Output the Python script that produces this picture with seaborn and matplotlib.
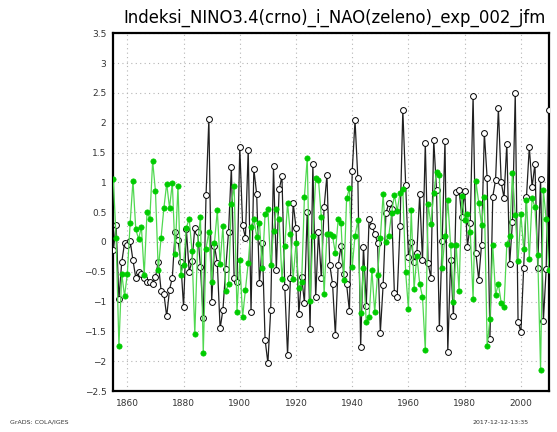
import numpy as np
import matplotlib
matplotlib.use('Agg')
import matplotlib.pyplot as plt
import seaborn as sns

# ============================================================
# DATA
# ============================================================
years = list(range(1855, 2011))

nino34 = [
    -0.14, 0.28, -0.96, -0.34, -0.02, -0.05, 0.02, -0.31, -0.60, -0.50, -0.54, -0.60, -0.67, -0.68, -0.70, -0.59, -0.33,
    -0.82, -0.87, -1.25, -0.80, -0.60, 0.17, 0.03, -0.33, -1.09, 0.21, -0.50, -0.32, 0.24, 0.17, -0.42, -1.28, 0.79, 2.06, -1.00,
    -0.07, -0.35, -1.45, -1.14, -0.45, 0.17, 1.25, -0.61, -0.68, 1.60, 0.28, 0.07, 1.55, -1.17, 1.22, 0.81, -0.69, -0.01, -1.64, -2.03,
    -1.14, 1.27, -0.47, 0.88, 1.10, -0.75, -1.89, -0.61, 0.65, 0.24, -1.21, -0.58, -1.02, 0.51, -1.46, 1.30, -0.93, 0.17, -0.60, 0.58,
    1.12, -0.38, -0.70, -1.56, -0.39, -0.07, -0.54, -0.71, -1.16, 1.19, 2.04, 1.07, -1.77, -0.08, -1.07, 0.39, 0.27, 0.14, -0.01,
    -1.52, -0.72, 0.48, 0.65, 0.56, -0.86, -0.92, 0.26, 2.21, 0.96, -0.25, 0.00, -0.33, -0.19, 0.80, -0.31, 1.66, -0.36, -0.60, 1.71,
    0.87, -1.45, 0.02, 1.69, -1.84, -0.30, -1.25, 0.84, 0.87, 0.42, 0.86, -0.08, 0.31, 2.45, -0.19, -0.63, -0.05, 1.83, 1.07,
    -1.62, 0.76, 1.04, 2.24, 1.00, 0.74, 1.65, -0.37, 0.33, 2.50, -1.34, -1.51, -0.43, 0.76, 1.59, 0.92, 1.31, -0.44, 1.06, -1.33, -0.46, 2.21,
]

nao = [
    1.06, 0.06, -1.75, -0.53, -0.91, -0.53, 0.32, 1.03, 0.21, 0.05, 0.25, -0.55, 0.50, 0.39, 1.36, 0.85, -0.47,
    0.07, 0.57, 0.98, 0.57, 0.99, -0.21, 0.94, -0.55, -0.39, 0.24, 0.39, -0.15, -1.55, -0.04, 0.42, -1.87, -0.11, 0.17, -0.68,
    -0.01, 0.53, -0.37, 0.27, -0.83, -0.71, 0.64, 0.94, -1.17, -0.31, -1.26, -0.81, -0.35, 0.25, 0.39, 0.09, 0.32, -0.44, 0.47, 0.55,
    -0.39, 0.18, 0.56, 0.39, -0.62, -0.07, 0.65, 0.13, -0.62, -0.01, -0.78, -0.67, 0.76, 1.41, -0.99, 0.10, 1.07, 1.04, 0.42, -0.88,
    0.14, 0.13, 0.10, -0.19, 0.38, 0.32, -0.63, 0.73, 0.90, -0.42, 0.10, 0.36, -1.19, -0.44, -1.35, -1.26, -0.47, -1.18, -0.55,
    0.06, 0.80, 0.00, 0.10, 0.48, 0.79, 0.52, 0.82, 0.88, -0.50, -1.13, 0.53, -0.79, -0.23, -0.70, -0.92, -1.82, 0.63, 0.30, 0.82,
    1.18, 1.12, -0.44, 0.10, 0.70, -0.05, -1.00, -0.05, -0.82, 0.77, 0.36, 0.47, 0.17, -0.96, 1.02, 0.66, 0.28, 0.75, -1.74,
    -1.29, -0.05, -0.89, -0.70, -1.02, -1.09, -0.04, 0.10, 1.16, 0.46, -0.32, 0.47, -0.12, 0.71, -0.28, 0.74, 0.58, -0.22, -2.14, 0.87, 0.38, -0.47,
]

xticks = [1860, 1880, 1900, 1920, 1940, 1960, 1980, 2000]
yticks = [-2.5, -2, -1.5, -1, -0.5, 0, 0.5, 1, 1.5, 2, 2.5, 3, 3.5]
ytick_labels = ['\u22122.5', '\u22122', '\u22121.5', '\u22121', '\u22120.5', '0',
                '0.5', '1', '1.5', '2', '2.5', '3', '3.5']

title = 'Indeksi_NINO3.4(crno)_i_NAO(zeleno)_exp_002_jfm'

# ============================================================
# PLOT
# ============================================================
sns.set_style('white')
fig = plt.figure(figsize=(5.57, 4.32), dpi=100)
ax = fig.add_axes([0.2034, 0.0949, 0.7822, 0.8281])

# NINO3.4 - black line, open circles
sns.lineplot(x=years, y=nino34, ax=ax, color='#202020', linewidth=0.9,
             marker='o', markersize=4.2, markerfacecolor='white',
             markeredgecolor='black', markeredgewidth=0.7, zorder=3)
# NAO - green line, filled dots
sns.lineplot(x=years, y=nao, ax=ax, color='#50d850', linewidth=0.9,
             marker='o', markersize=3.8, markerfacecolor='#00cc00',
             markeredgecolor='#00cc00', markeredgewidth=0.5, zorder=4)

ax.set_xlim(years[0], years[-1])
ax.set_ylim(-2.5, 3.5)
ax.set_xticks(xticks)
ax.set_xticklabels([str(t) for t in xticks])
ax.set_yticks(yticks)
ax.set_yticklabels(ytick_labels)
ax.tick_params(axis='both', labelsize=6.5, colors='#333333', length=3, width=0.8,
               direction='out', pad=2)
ax.tick_params(axis='x', pad=3)

ax.grid(True, color='#b5b5b5', linestyle=(0, (1, 3)), linewidth=0.8)
for side in ax.spines.values():
    side.set_color('black')
    side.set_linewidth(1.6)

fig.text(0.6, 0.958, title, ha='center', va='center', fontsize=11.9, color='black')
fig.text(0.018, 0.022, 'GrADS: COLA/IGES', ha='left', va='center', fontsize=4.5, color='#333333')
fig.text(0.848, 0.022, '2017-12-12-13:35', ha='left', va='center', fontsize=4.5, color='#333333')

fig.savefig('out.png', dpi=100)
plt.close(fig)
